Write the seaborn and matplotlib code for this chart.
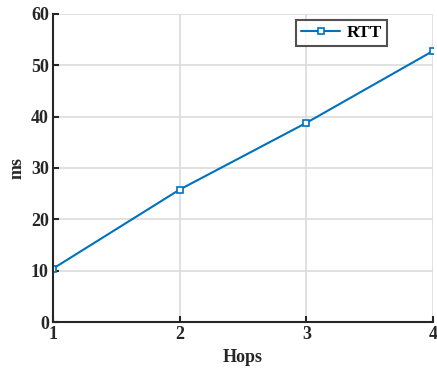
import matplotlib
matplotlib.use("Agg")
import matplotlib.pyplot as plt
import seaborn as sns
import pandas as pd

hops = [1, 2, 3, 4]
rtt = [10.4, 25.8, 38.8, 52.8]

df = pd.DataFrame({"Hops": hops, "RTT": rtt})

sns.set_style("whitegrid")
plt.rcParams["font.family"] = ["Liberation Serif", "DejaVu Serif"]
plt.rcParams["font.weight"] = "bold"

fig = plt.figure(figsize=(4.37, 3.75), dpi=100)
ax = fig.add_axes([0.1213, 0.1413, 0.8697, 0.8214])

sns.lineplot(data=df, x="Hops", y="RTT", ax=ax, color="#0072BD", linewidth=1.5,
             marker="s", markersize=4, markerfacecolor="white",
             markeredgecolor="#0072BD", markeredgewidth=1.2, label="RTT")

ax.set_xlim(1, 4)
ax.set_ylim(0, 60)
ax.set_xticks([1, 2, 3, 4])
ax.set_yticks(range(0, 61, 10))
ax.grid(True, color="#dcdcdc", linewidth=1.2)
for s in ["top", "right"]:
    ax.spines[s].set_visible(False)
for s in ["left", "bottom"]:
    ax.spines[s].set_visible(True)
    ax.spines[s].set_color("#262626")
    ax.spines[s].set_linewidth(1.5)
ax.tick_params(direction="in", length=4, width=1.5, colors="#262626",
               labelsize=13, pad=3, left=True, bottom=True)
for lbl in ax.get_xticklabels() + ax.get_yticklabels():
    lbl.set_fontweight("bold")
ax.set_xlabel("Hops", fontsize=13, fontweight="bold", color="#262626", labelpad=4)
ax.set_ylabel("ms", fontsize=13, fontweight="bold", color="#262626", labelpad=4)

leg = ax.legend(loc="upper right", bbox_to_anchor=(0.879, 0.982), fontsize=12.5,
                frameon=True, fancybox=False, handlelength=2.2, borderpad=0.3,
                handletextpad=0.4, borderaxespad=0)
leg.get_frame().set_edgecolor("#262626")
leg.get_frame().set_linewidth(1.5)
for t in leg.get_texts():
    t.set_fontweight("bold")
    t.set_color("black")

fig.savefig("out.png", dpi=100)
